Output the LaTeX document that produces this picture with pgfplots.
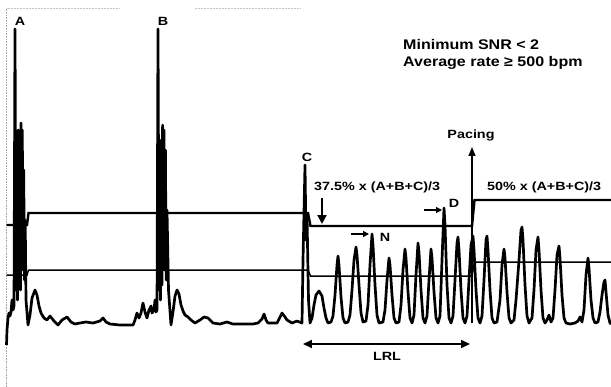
\documentclass[border=0pt]{standalone}
\usepackage{fontspec}
\setmainfont{Liberation Sans}
\usepackage{graphicx}
\usepackage{pgfplots}
\pgfplotsset{compat=1.18}
\usetikzlibrary{arrows.meta}

% label styles (bold sans, slightly widened)
\newcommand{\lbl}[1]{\scalebox{1.2}[1]{\fontsize{12}{14}\selectfont\bfseries #1}}
\newcommand{\frm}[1]{\scalebox{1.2}[1]{\fontsize{12}{14}\selectfont\bfseries #1}}
\newcommand{\crit}[1]{\scalebox{1.15}[1]{\fontsize{14}{16}\selectfont\bfseries #1}}

\begin{document}
\begin{tikzpicture}
\begin{axis}[
  scale only axis, width=611bp, height=387bp,
  xmin=0, xmax=611, ymin=0, ymax=387, y dir=reverse,
  hide axis, clip=true,
]
% page extent
\path (axis cs:0,0) rectangle (axis cs:611,387);

% faint frame left and top
\draw[gray!70, densely dotted, line width=0.6pt] (axis cs:6.5,387) -- (axis cs:6.5,8);
\draw[gray!45, densely dotted, line width=0.5pt] (axis cs:6.5,8) -- (axis cs:120,8);
\draw[gray!45, densely dotted, line width=0.5pt] (axis cs:195,8) -- (axis cs:300,8);

% upper detection threshold
\addplot[black, line width=2.4pt, line join=miter] coordinates {
 (6.5,225) (27,225) (28.5,213) (308,213) (310.5,226) (472,226) (474.5,200) (611,200)
};
% lower threshold
\addplot[black, line width=1.5pt] coordinates {
 (6.5,275) (27,275) (28.5,270) (308,270) (310.5,276) (472,276) (474.5,262) (611,262)
};

% rectified signal envelope
\addplot[black, line width=2.7pt, line join=round] coordinates {
 (6.5,345) (7,330) (8,318) (9,313) (10,316) (11,312) (12,300) (13,310) (14,306)
 (15,29) (16,290) (16.8,150) (17.5,300) (18.3,130) (19,280) (19.8,160) (20.5,290)
 (21,123) (21.7,250) (22.3,130) (23,270) (23.7,170) (24.5,280) (25.2,220) (26,300) (28,325)
 (30,315) (32,298) (35,290) (37,295) (39,306) (41,313) (44,318) (47,320) (50,316)
 (54,321) (58,325) (62,320) (67,317) (71,322) (75,324) (80,323) (86,322) (93,323)
 (100,321) (103,318) (106,322) (110,324) (120,325) (133,325) (135,320) (137,313)
 (139,318) (141,313) (143,303) (145,312) (147,318) (149,310) (151,306) (152,313)
 (154,310) (155,300) (156,312) (157,310)
 (158,29) (159,290) (159.8,160) (160.5,300) (161.3,140) (162,285) (162.6,125)
 (163.3,250) (164,130) (164.7,270) (165.4,150) (166.2,280) (167,210) (168.5,290) (171,325)
 (173,312) (175,296) (177,290) (179,294) (181,305) (183,311) (185,315) (188,317)
 (191,320) (195,323) (200,320) (204,317) (208,318) (213,323) (220,324) (227,322)
 (233,324) (245,324) (253,324) (258,323) (262,319) (264,314) (266,320) (268,323)
 (277,323) (280,317) (282,313) (285,317) (287,320) (292,323) (297,321) (302,323)
 (303,260) (305,165) (306,240) (307,215) (308.5,300) (310,323)
 (312,318) (314,305) (316,295) (319,291) (322,296) (324,308) (326,318) (328,323)
 (331,322) (333,316) (335,295) (337,265) (338,256) (339,265) (341,297) (343,318)
 (345,323) (348,322) (350,315) (352,290) (354,260) (356,247) (357,255) (359,285)
 (361,313) (363,322) (366,321) (368,305) (370,265) (372,234) (373,245) (375,285)
 (377,315) (379,323) (383,322) (385,310) (387,280) (389,258) (390,265) (392,295)
 (394,318) (396,323) (399,322) (401,305) (403,270) (405,249) (406,258) (408,292)
 (410,318) (412,323) (414,315) (416,275) (418,243) (419,252) (421,290) (423,318)
 (425,323) (427,316) (429,280) (431,249) (432,258) (434,292) (436,318) (438,323)
 (440,316) (442,260) (444,208) (445,225) (447,285) (449,318) (451,323) (453,316)
 (455,280) (457,243) (458,237) (459,250) (461,290) (463,318) (465,323) (467,316)
 (469,280) (471,245) (473,236) (474,250) (476,290) (478,318) (480,323) (482,316)
 (484,280) (486,240) (487,236) (488,250) (490,290) (492,318) (494,323) (497,322)
 (500,300) (502,265) (504,249) (505,258) (507,292) (509,318) (511,323) (514,320)
 (516,300) (519,260) (521,230) (522,227) (523,240) (525,285) (527,316) (529,323)
 (532,318) (534,290) (536,250) (538,237) (539,250) (541,290) (543,318) (545,323)
 (547,320) (549,315) (551,322) (553,318) (555,290) (557,255) (559,246) (560,258)
 (562,295) (564,318) (566,323) (570,324) (575,323) (578,321) (580,317) (582,322)
 (584,310) (586,275) (588,258) (589,268) (591,300) (593,318) (595,323) (598,322)
 (600,312) (602,295) (604,282) (605,280) (606,292) (608,315) (610,323) (611,324)
};

% peak labels
\node at (axis cs:20,21) {\lbl{A}};
\node at (axis cs:163,21) {\lbl{B}};
\node at (axis cs:307,157) {\lbl{C}};
\node at (axis cs:454,203) {\lbl{D}};
\node at (axis cs:385,237) {\lbl{N}};

% threshold annotations
\node[anchor=west, inner sep=0pt] at (axis cs:314,187) {\frm{37.5\% x (A+B+C)/3}};
\node[anchor=west, inner sep=0pt] at (axis cs:487,187) {\frm{50\% x (A+B+C)/3}};
\draw[line width=2pt, -{Triangle[length=9pt,width=9pt]}] (axis cs:322,198) -- (axis cs:322,224);
\draw[line width=1.2pt, -{Triangle[length=6pt,width=6pt]}] (axis cs:351,234) -- (axis cs:369,234);
\draw[line width=1.2pt, -{Triangle[length=6pt,width=6pt]}] (axis cs:424,210) -- (axis cs:442,210);

% pacing marker
\draw[line width=1.2pt, -{Triangle[length=9pt,width=7pt]}] (axis cs:472,323) -- (axis cs:472,147);
\node at (axis cs:471,135) {\frm{Pacing}};

% LRL interval
\draw[line width=1.8pt, {Triangle[length=9pt,width=8pt]}-{Triangle[length=9pt,width=8pt]}] (axis cs:303,344) -- (axis cs:470,344);
\node at (axis cs:387,356) {\lbl{LRL}};

% detection criteria
\node[anchor=west, inner sep=0pt] at (axis cs:403,45) {\crit{Minimum SNR < 2}};
\node[anchor=west, inner sep=0pt] at (axis cs:403,63) {\crit{Average rate ≥ 500 bpm}};
\end{axis}
\end{tikzpicture}
\end{document}
